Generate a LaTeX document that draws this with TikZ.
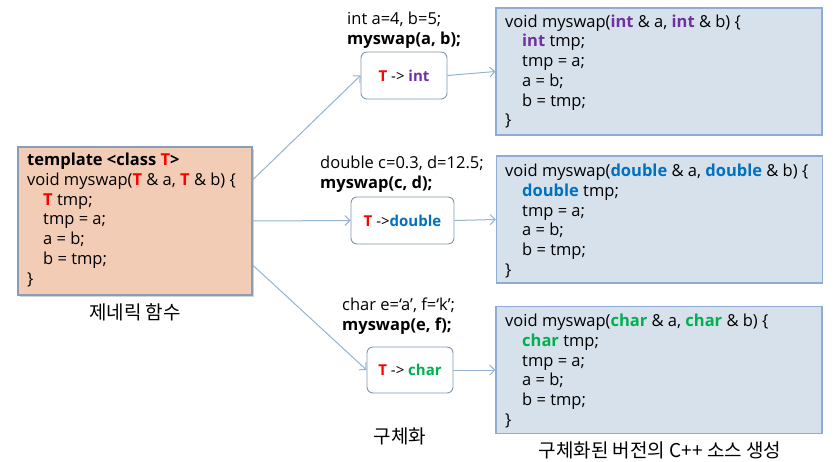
\documentclass[tikz,border=0pt]{standalone}
\usepackage{fontspec}
\setmainfont{Open Sans}
\newfontfamily\kr{Noto Sans CJK KR}
\usetikzlibrary{arrows.meta,shadows}
\definecolor{tred}{HTML}{FF0000}
\definecolor{tint}{HTML}{7030A0}
\definecolor{tdbl}{HTML}{0070C0}
\definecolor{tchr}{HTML}{00B050}
\definecolor{peach}{HTML}{F2CCB4}
\definecolor{peachline}{HTML}{8A9DB8}
\definecolor{bluefill}{HTML}{D7E1EC}
\definecolor{blueline}{HTML}{8EADD0}
\definecolor{smallline}{HTML}{7F95B0}
\definecolor{arrowcol}{HTML}{94B3D3}
\tikzset{
  codefont/.style={font=\fontsize{16.5}{19.7}\selectfont},
  codetext/.style={codefont, anchor=west, align=left, inner sep=0pt},
  genbox/.style={draw=peachline, line width=1.2pt, fill=peach, minimum width=234pt, minimum height=148pt, inner sep=0pt,
    drop shadow={shadow xshift=1.5pt, shadow yshift=-1.5pt, opacity=0.35}},
  outbox/.style={draw=blueline, line width=1.2pt, fill=bluefill, minimum height=127pt, minimum width=326pt, inner sep=0pt},
  mapbox/.style={draw=smallline, line width=0.9pt, fill=white, rounded corners=6pt, minimum height=47pt, inner sep=0pt,
    font=\fontsize{15}{17}\selectfont},
  calltext/.style={font=\fontsize{16.5}{20}\selectfont, anchor=west, align=left, inner sep=0pt},
  label/.style={font=\kr\fontsize{19}{21}\selectfont, inner sep=0pt},
  conn/.style={draw=arrowcol, line width=1pt, -{Straight Barb[length=5pt,width=10pt]}}
}
\newcommand{\TT}{\textcolor{tred}{\textbf{T}}}
\newcommand{\kw}[2]{\textcolor{#1}{\textbf{#2}}}
\begin{document}
\begin{tikzpicture}[x=1pt,y=-1pt]
\useasboundingbox (0,0) rectangle (840,461);
% generic function
\node[genbox] (L) at (135,221) {};
\node[codetext] (Lt) at (27,220) {\textbf{template <class \TT>}\\
void myswap(\TT{} \& a, \TT{} \& b) \{\\
\hspace*{16pt}\TT{} tmp;\\
\hspace*{16pt}tmp = a;\\
\hspace*{16pt}a = b;\\
\hspace*{16pt}b = tmp;\\
\}};
\node[label] (Ll) at (135,312) {제네릭 함수};
% mapping boxes
\node[mapbox, minimum width=86pt] (S1) at (404,75.5) {\TT{} -> \kw{tint}{int}};
\node[mapbox, minimum width=103pt] (S2) at (402.5,220.5) {\TT{} ->\kw{tdbl}{double}};
\node[mapbox, minimum width=86pt, minimum height=46pt] (S3) at (410,370) {\TT{} -> \kw{tchr}{char}};
% call texts
\node[calltext] (C1) at (347,30) {int a=4, b=5;\\\textbf{myswap(a, b);}};
\node[calltext] (C2) at (320,174) {double c=0.3, d=12.5;\\\textbf{myswap(c, d);}};
\node[calltext] (C3) at (342,316) {char e=‘a’, f=‘k’;\\\textbf{myswap(e, f);}};
\node[label] (Ml) at (400,436) {구체화};
% output boxes
\node[outbox] (R1) at (659,71.5) {};
\node[codetext] (R1t) at (505,71.5) {void myswap(\kw{tint}{int} \& a, \kw{tint}{int} \& b) \{\\
\hspace*{17pt}\kw{tint}{int} tmp;\\
\hspace*{17pt}tmp = a;\\
\hspace*{17pt}a = b;\\
\hspace*{17pt}b = tmp;\\
\}};
\node[outbox] (R2) at (659.5,219.5) {};
\node[codetext] (R2t) at (505,221) {void myswap(\kw{tdbl}{double} \& a, \kw{tdbl}{double} \& b) \{\\
\hspace*{17pt}\kw{tdbl}{double} tmp;\\
\hspace*{17pt}tmp = a;\\
\hspace*{17pt}a = b;\\
\hspace*{17pt}b = tmp;\\
\}};
\node[outbox] (R3) at (659,370) {};
\node[codetext] (R3t) at (505,371) {void myswap(\kw{tchr}{char} \& a, \kw{tchr}{char} \& b) \{\\
\hspace*{17pt}\kw{tchr}{char} tmp;\\
\hspace*{17pt}tmp = a;\\
\hspace*{17pt}a = b;\\
\hspace*{17pt}b = tmp;\\
\}};
\node[label] (Rl) at (660,450) {구체화된 버전의 C++ 소스 생성};
% connectors
\draw[conn] ([yshift=41pt]L.east) -- (S1.west);
\draw[conn] (L.east) -- (S2.west);
\draw[conn] ([yshift=-44pt]L.east) -- (S3.west);
\draw[conn] (S1.east) -- (R1.west);
\draw[conn] (S2.east) -- (R2.west);
\draw[conn] (S3.east) -- (R3.west);
\end{tikzpicture}
\end{document}
